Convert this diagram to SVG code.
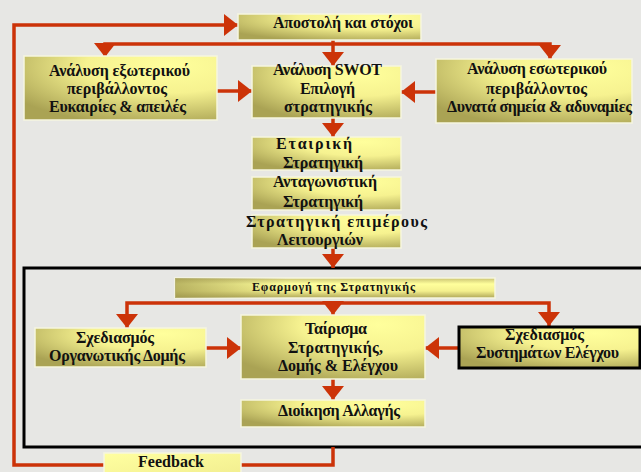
<svg xmlns="http://www.w3.org/2000/svg" width="641" height="472" viewBox="0 0 641 472">
  <defs>
    <radialGradient id="boxFill" cx="0.75" cy="0.15" r="0.95" fx="0.75" fy="0.15">
      <stop offset="0" stop-color="#ffff9c"/>
      <stop offset="0.45" stop-color="#f6f290"/>
      <stop offset="1" stop-color="#aaa354"/>
    </radialGradient>
    <linearGradient id="barFill" x1="0" y1="0" x2="0" y2="1">
      <stop offset="0" stop-color="#c9c272"/>
      <stop offset="0.3" stop-color="#ffff9c"/>
      <stop offset="0.65" stop-color="#f4f08e"/>
      <stop offset="1" stop-color="#aea658"/>
    </linearGradient>
    <linearGradient id="barShade" x1="0" y1="0" x2="1" y2="0">
      <stop offset="0" stop-color="#9c954a" stop-opacity="0.7"/>
      <stop offset="0.35" stop-color="#9c954a" stop-opacity="0"/>
      <stop offset="1" stop-color="#9c954a" stop-opacity="0"/>
    </linearGradient>
    <linearGradient id="plainFill" x1="0" y1="0" x2="1" y2="1">
      <stop offset="0" stop-color="#ffffa0"/>
      <stop offset="1" stop-color="#f2ee90"/>
    </linearGradient>
    <marker id="arr" viewBox="0 0 14 22" refX="14" refY="11" markerWidth="14" markerHeight="22" markerUnits="userSpaceOnUse" orient="auto">
      <path d="M0 0 L14 11 L0 22 Z" fill="#cc3308"/>
    </marker>
    <style>
      .bg { fill: #e7e7e4; }
      .box { fill: url(#boxFill); stroke: #f6f6df; stroke-width: 1.5; }
      .wire { fill: none; stroke: #cc3308; stroke-width: 3.5; }
      .frame { fill: none; stroke: #000; stroke-width: 3; }
      text { font-family: "Liberation Serif", "DejaVu Serif", serif; font-weight: bold; font-size: 16px; fill: #111; }
      .small { font-size: 12px; }
    </style>
  </defs>

  <rect class="bg" x="0" y="0" width="641" height="472"/>

  <!-- implementation frame -->
  <rect class="frame" x="24" y="268" width="640" height="179"/>

  <!-- connectors -->
  <g id="connectors">
    <path class="wire" d="M333 447 V465 H14 V25 H238" marker-end="url(#arr)"/>
    <path class="wire" d="M333 40 V66" marker-end="url(#arr)"/>
    <path class="wire" d="M333 44 H105 V57" marker-end="url(#arr)"/>
    <path class="wire" d="M333 44 H550 V59" marker-end="url(#arr)"/>
    <path class="wire" d="M217 91 H252" marker-end="url(#arr)"/>
    <path class="wire" d="M436 92 H401" marker-end="url(#arr)"/>
    <path class="wire" d="M333 118 V137" marker-end="url(#arr)"/>
    <path class="wire" d="M333 248 V268" marker-end="url(#arr)"/>
    <path class="wire" d="M333 303 H127 V328" marker-end="url(#arr)"/>
    <path class="wire" d="M333 303 H549 V326" marker-end="url(#arr)"/>
    <path class="wire" d="M333 303 V315" marker-end="url(#arr)"/>
    <path class="wire" d="M206 348 H241" marker-end="url(#arr)"/>
    <path class="wire" d="M458 348 H425" marker-end="url(#arr)"/>
    <path class="wire" d="M333 379 V400" marker-end="url(#arr)"/>
  </g>

  <g id="mission">
    <rect class="box" x="238" y="14" width="183" height="26"/>
    <text x="273" y="28" textLength="140" lengthAdjust="spacing">Αποστολή και στόχοι</text>
  </g>

  <g id="external">
    <rect class="box" x="24" y="56" width="193" height="64"/>
    <text x="49" y="76" textLength="141" lengthAdjust="spacing">Ανάλυση εξωτερικού</text>
    <text x="67" y="94" textLength="100" lengthAdjust="spacing">περιβάλλοντος</text>
    <text x="49" y="112" textLength="137" lengthAdjust="spacing">Ευκαιρίες &amp; απειλές</text>
  </g>

  <g id="swot">
    <rect class="box" x="252" y="66" width="149" height="52"/>
    <text x="273" y="75" textLength="109" lengthAdjust="spacing">Ανάλυση SWOT</text>
    <text x="300" y="94" textLength="55" lengthAdjust="spacing">Επιλογή</text>
    <text x="284" y="112" textLength="88" lengthAdjust="spacing">στρατηγικής</text>
  </g>

  <g id="internal">
    <rect class="box" x="436" y="59" width="196" height="64"/>
    <text x="467" y="74" textLength="140" lengthAdjust="spacing">Ανάλυση εσωτερικού</text>
    <text x="486" y="94" textLength="101" lengthAdjust="spacing">περιβάλλοντος</text>
    <text x="447" y="112" textLength="185" lengthAdjust="spacing">Δυνατά σημεία &amp; αδυναμίες</text>
  </g>

  <g id="corporate">
    <rect class="box" x="252" y="137" width="149" height="33"/>
    <text x="276" y="149" textLength="76" lengthAdjust="spacing">Εταιρική</text>
    <text x="283" y="168" textLength="80" lengthAdjust="spacing">Στρατηγική</text>
  </g>

  <g id="competitive">
    <rect class="box" x="252" y="177" width="149" height="33"/>
    <text x="273" y="187" textLength="104" lengthAdjust="spacing">Ανταγωνιστική</text>
    <text x="283" y="207" textLength="80" lengthAdjust="spacing">Στρατηγική</text>
  </g>

  <g id="functional">
    <rect class="box" x="252" y="215" width="149" height="33"/>
    <text x="246" y="227" textLength="181" lengthAdjust="spacing">Στρατηγική επιμέρους</text>
    <text x="277" y="245" textLength="86" lengthAdjust="spacing">Λειτουργιών</text>
  </g>

  <g id="implementation">
    <rect x="175" y="278" width="320" height="20" fill="url(#barFill)" stroke="#f6f6df" stroke-width="1.5"/>
    <rect x="175" y="278" width="320" height="20" fill="url(#barShade)"/>
    <text class="small" x="252" y="291" textLength="163" lengthAdjust="spacing">Εφαρμογή  της Στρατηγικής</text>
  </g>

  <g id="org-design">
    <rect class="box" x="35" y="328" width="171" height="39"/>
    <text x="76" y="343" textLength="78" lengthAdjust="spacing">Σχεδιασμός</text>
    <text x="49" y="361" textLength="136" lengthAdjust="spacing">Οργανωτικής Δομής</text>
  </g>

  <g id="fit">
    <rect class="box" x="241" y="315" width="184" height="64"/>
    <text x="305" y="334" textLength="62" lengthAdjust="spacing">Ταίρισμα</text>
    <text x="288" y="353" textLength="95" lengthAdjust="spacing">Στρατηγικής,</text>
    <text x="278" y="371" textLength="120" lengthAdjust="spacing">Δομής &amp; Ελέγχου</text>
  </g>

  <g id="control-design">
    <rect x="459" y="327" width="181" height="41" fill="url(#boxFill)" stroke="#000" stroke-width="3"/>
    <text x="505" y="340" textLength="79" lengthAdjust="spacing">Σχεδιασμός</text>
    <text x="476" y="358" textLength="143" lengthAdjust="spacing">Συστημάτων Ελέγχου</text>
  </g>

  <g id="change">
    <rect class="box" x="241" y="400" width="184" height="27"/>
    <text x="278" y="416" textLength="122" lengthAdjust="spacing">Διοίκηση Αλλαγής</text>
  </g>

  <g id="feedback">
    <rect x="104" y="453" width="137" height="22" fill="url(#plainFill)" stroke="#f6f6df" stroke-width="1.5"/>
    <text x="138" y="467" textLength="66" lengthAdjust="spacing">Feedback</text>
  </g>
</svg>
